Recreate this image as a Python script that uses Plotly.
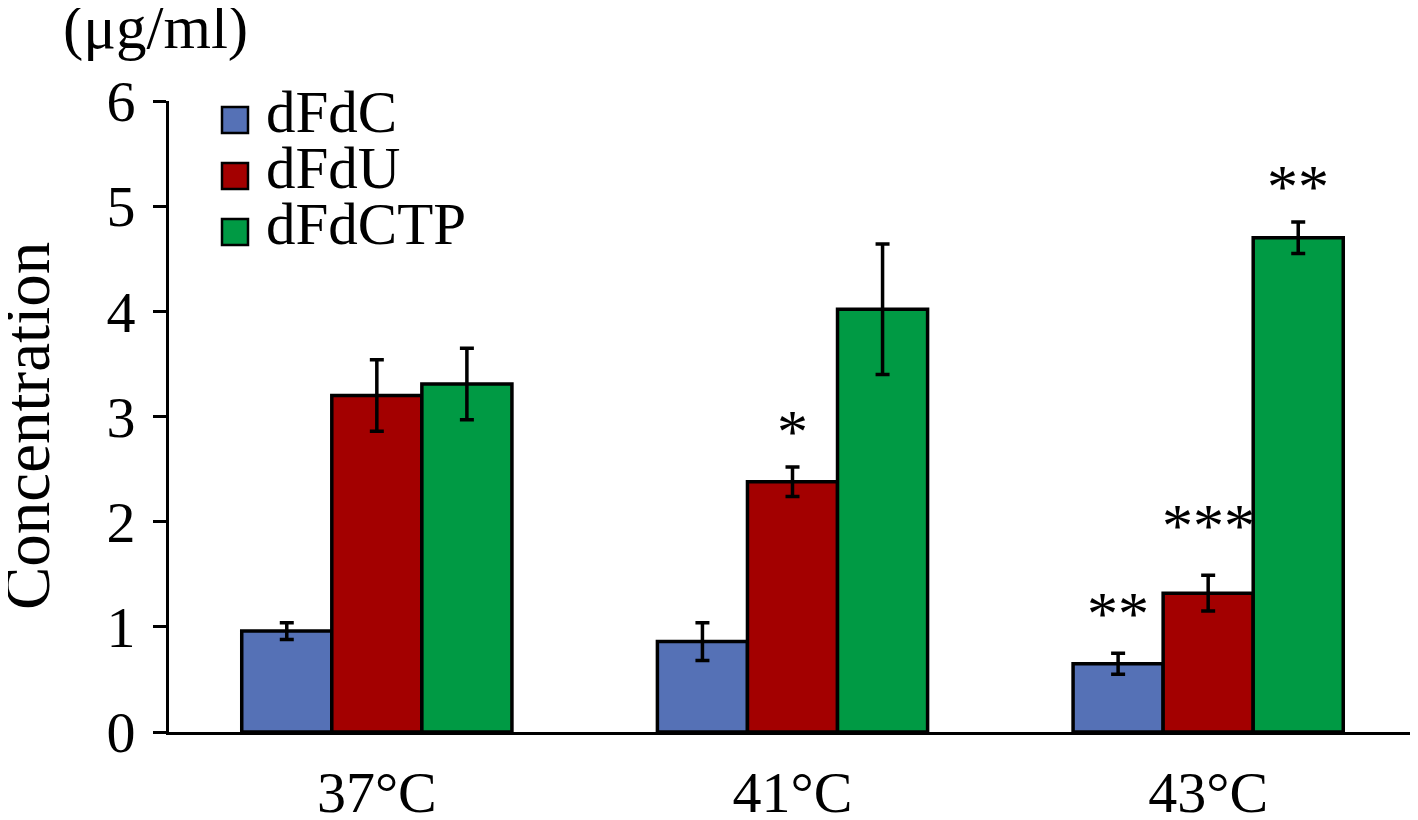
import plotly.graph_objects as go

# ---------------- data ----------------
categories = ["37°C", "41°C", "43°C"]
series_names = ["dFdC", "dFdU", "dFdCTP"]
dFdC = [0.96, 0.86, 0.65]
dFdC_err = [0.08, 0.18, 0.10]
dFdU = [3.20, 2.38, 1.32]
dFdU_err = [0.34, 0.14, 0.17]
dFdCTP = [3.31, 4.02, 4.70]
dFdCTP_err = [0.34, 0.62, 0.15]
y_ticks = [0, 1, 2, 3, 4, 5, 6]

sig_category = ["41°C", "43°C", "43°C", "43°C"]
sig_series = [1, 0, 1, 2]
sig_text = ["*", "**", "***", "**"]

# ---------------- style ----------------
colors = ["#5571B6", "#A30000", "#009A44"]
FONT = "Liberation Serif"
OFF = 8  # page body margin
W, H = 1418 - OFF, 820 - OFF
# target plot box in window pixels: x 169..1416, y 101..732
ML, MR, MT, MB = 169 - OFF, 2, 101 - OFF, 88
PW, PH = W - ML - MR, H - MT - MB
BARGAP = 0.35
sig_shift = [18, 22, 32, 18]  # pixels above error bar top

values = [dFdC, dFdU, dFdCTP]
errors = [dFdC_err, dFdU_err, dFdCTP_err]

fig = go.Figure()
for name, vals, errs, col in zip(series_names, values, errors, colors):
    fig.add_trace(go.Bar(
        x=categories, y=vals, name=name,
        marker=dict(color=col, line=dict(color="black", width=3.5)),
        error_y=dict(type="data", array=errs, visible=True,
                     color="black", thickness=3.5, width=7),
        showlegend=False,
    ))

def px2paper(px, py):
    # window pixel -> paper coords
    return (px - OFF - ML) / PW, (OFF + H - MB - py) / PH

annotations = []
shapes = []

# significance asterisks
bw = (1 - BARGAP) / len(series_names)
for cat, s, txt, sh in zip(sig_category, sig_series, sig_text, sig_shift):
    ci = categories.index(cat)
    xpos = ci + (s - 1) * bw
    ytop = values[s][ci] + errors[s][ci]
    annotations.append(dict(
        x=xpos, y=ytop, xref="x", yref="y", text=txt, showarrow=False,
        yanchor="bottom", xanchor="center", yshift=sh - 18,
        font=dict(family=FONT, size=62, color="black"),
    ))

# unit label
ux, uy = px2paper(155, 28)
annotations.append(dict(x=ux, y=uy, xref="paper", yref="paper", text="(μg/ml)",
                        showarrow=False, xanchor="center", yanchor="middle",
                        font=dict(family=FONT, size=61, color="black")))

# y title
tx, ty = px2paper(27, 426)
annotations.append(dict(x=tx, y=ty, xref="paper", yref="paper", text="Concentration",
                        showarrow=False, xanchor="center", yanchor="middle",
                        textangle=-90,
                        font=dict(family=FONT, size=65, color="black")))

# custom legend
leg_rows = [120, 176, 232]
for name, col, ry in zip(series_names, colors, leg_rows):
    x0, y0 = px2paper(222, ry + 13)
    x1, y1 = px2paper(248, ry - 13)
    shapes.append(dict(type="rect", xref="paper", yref="paper",
                       x0=x0, x1=x1, y0=y0, y1=y1,
                       fillcolor=col, line=dict(color="black", width=2.5)))
    lx, ly = px2paper(264, ry - 8)
    annotations.append(dict(x=lx, y=ly, xref="paper", yref="paper", text=name,
                            showarrow=False, xanchor="left", yanchor="middle",
                            font=dict(family=FONT, size=59, color="black")))

# y axis extension below zero
shapes.append(dict(type="line", xref="paper", yref="y", x0=0, x1=0,
                   ysizemode="pixel", yanchor=0, y0=0, y1=-13,
                   line=dict(color="black", width=3)))

fig.update_layout(
    width=W, height=H,
    margin=dict(l=ML, r=MR, t=MT, b=MB, autoexpand=False),
    paper_bgcolor="white", plot_bgcolor="white",
    barmode="group", bargap=BARGAP, bargroupgap=0,
    font=dict(family=FONT, size=58, color="black"),
    annotations=annotations, shapes=shapes,
    showlegend=False,
)
fig.update_xaxes(
    type="category", showline=True, linecolor="black", linewidth=3,
    ticks="", showgrid=False, zeroline=False,
    tickfont=dict(family=FONT, size=58, color="black"),
    ticklabelstandoff=7,
)
fig.update_yaxes(
    range=[0, 6], tickvals=y_ticks, showline=True, linecolor="black", linewidth=3,
    ticks="outside", ticklen=13, tickwidth=3, tickcolor="black",
    showgrid=False, zeroline=False,
    tickfont=dict(family=FONT, size=58, color="black"),
    ticklabelstandoff=6,
)

fig.write_html("out.html")
